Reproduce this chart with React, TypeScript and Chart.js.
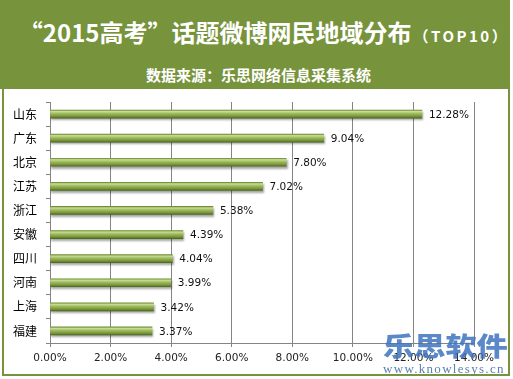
import React, { useEffect, useRef } from "react";
import { Chart, registerables } from "chart.js";

Chart.register(...registerables);

const categories = ["山东", "广东", "北京", "江苏", "浙江", "安徽", "四川", "河南", "上海", "福建"];
const shares = [12.28, 9.04, 7.8, 7.02, 5.38, 4.39, 4.04, 3.99, 3.42, 3.37];
const xTicks = [0, 2, 4, 6, 8, 10, 12, 14];
const titleMain = "“2015高考”话题微博网民地域分布";
const titleSuffix = "（TOP10）";
const subtitle = "数据来源：乐思网络信息采集系统";
const watermark = "乐思软件";
const watermarkUrl = "www.knowlesys.cn";

const GREEN = "#77933C";
const GRID = "#858585";

export default function App() {
  const ref = useRef<HTMLCanvasElement | null>(null);

  useEffect(() => {
    document.body.style.margin = "0";
    const canvas = ref.current;
    if (!canvas) return;

    const labelPlugin = {
      id: "valueLabels",
      beforeDatasetDraw(chart: any) {
        const ctx = chart.ctx;
        ctx.save();
        ctx.shadowColor = "rgba(0,0,0,0.35)";
        ctx.shadowOffsetX = 1;
        ctx.shadowOffsetY = 2;
        ctx.shadowBlur = 2;
      },
      afterDatasetDraw(chart: any) {
        chart.ctx.restore();
      },
      afterDatasetsDraw(chart: any) {
        const ctx = chart.ctx;
        const meta = chart.getDatasetMeta(0);
        ctx.save();
        ctx.font = "10.5px 'DejaVu Sans'";
        ctx.fillStyle = "#111";
        ctx.textAlign = "left";
        ctx.textBaseline = "middle";
        meta.data.forEach((bar: any, i: number) => {
          ctx.fillText(shares[i].toFixed(2) + "%", bar.x + 7, bar.y + 1);
        });
        ctx.restore();
      },
    };

    const chart = new Chart(canvas, {
      type: "bar",
      data: {
        labels: categories,
        datasets: [
          {
            data: shares,
            barThickness: 8,
            borderWidth: 0,
            backgroundColor: (c: any) => {
              const ch = c.chart;
              const ys = ch.scales && ch.scales.y;
              if (!ys || c.dataIndex === undefined) return "#8fb04a";
              const yc = ys.getPixelForValue(c.dataIndex);
              if (!Number.isFinite(yc)) return "#8fb04a";
              const g = ch.ctx.createLinearGradient(0, yc - 4, 0, yc + 4);
              g.addColorStop(0, "#6f8c30");
              g.addColorStop(0.18, "#c9dc98");
              g.addColorStop(0.45, "#9dbb5a");
              g.addColorStop(0.8, "#76933a");
              g.addColorStop(1, "#4f6a1f");
              return g;
            },
          },
        ],
      },
      options: {
        indexAxis: "y",
        responsive: false,
        animation: false,
        devicePixelRatio: 1,
        layout: { padding: { top: 102, right: 39, left: 0, bottom: 0 } },
        plugins: {
          legend: { display: false },
          title: { display: false },
          tooltip: { enabled: false },
        },
        scales: {
          x: {
            min: 0,
            max: 14,
            afterBuildTicks: (s: any) => {
              s.ticks = xTicks.map((v) => ({ value: v }));
            },
            afterFit: (s: any) => {
              s.height = 36;
            },
            ticks: {
              padding: 5,
              color: "#222",
              font: { family: "'DejaVu Sans'", size: 10.5 },
              callback: (v: any) => Number(v).toFixed(2) + "%",
              maxRotation: 0,
            },
            grid: { color: GRID, tickLength: 4, lineWidth: 1 },
            border: { display: true, color: GRID },
          },
          y: {
            afterFit: (s: any) => {
              s.width = 50;
            },
            ticks: {
              padding: 9,
              color: "#000",
              font: { family: "'Noto Sans CJK SC'", size: 12 },
            },
            grid: { drawOnChartArea: false, color: GRID, tickLength: 4, offset: true },
            border: { display: true, color: GRID },
          },
        },
      },
      plugins: [labelPlugin],
    } as any);
    chart.update();

    return () => chart.destroy();
  }, []);

  return (
    <div style={{ position: "relative", width: 513, height: 379, background: "#fff", overflow: "hidden" }}>
      <div
        style={{
          position: "absolute",
          left: 2,
          top: 0,
          width: 508,
          height: 376,
          border: `2px solid ${GREEN}`,
          boxSizing: "border-box",
        }}
      />
      <div style={{ position: "absolute", left: 0, top: 0, width: 510, height: 89, background: GREEN }} />
      <div
        style={{
          position: "absolute",
          left: 0,
          top: 15,
          width: 528,
          textAlign: "center",
          color: "#fff",
          fontFamily: "'Noto Sans CJK SC'",
          fontWeight: "bold",
          whiteSpace: "nowrap",
          lineHeight: "34px",
        }}
      >
        <span style={{ fontSize: 24 }}>{titleMain}</span>
        <span style={{ fontSize: 15, letterSpacing: 2.5, marginLeft: 2 }}>{titleSuffix}</span>
      </div>
      <div
        style={{
          position: "absolute",
          left: 0,
          top: 64,
          width: 517,
          textAlign: "center",
          color: "#fff",
          fontFamily: "'Noto Sans CJK SC'",
          fontWeight: "bold",
          fontSize: 15,
          lineHeight: "22px",
          whiteSpace: "nowrap",
        }}
      >
        {subtitle}
      </div>
      <canvas ref={ref} width={513} height={379} style={{ position: "absolute", left: 0, top: 0, width: 513, height: 379 }} />
      <div
        style={{
          position: "absolute",
          left: 383,
          top: 330,
          color: "#3f74bf",
          opacity: 0.85,
          fontFamily: "'Noto Sans CJK SC'",
          fontWeight: 900,
          fontSize: 26,
          lineHeight: "30px",
          transform: "scaleX(1.2)",
          transformOrigin: "left center",
          whiteSpace: "nowrap",
        }}
      >
        {watermark}
      </div>
      <div
        style={{
          position: "absolute",
          left: 383,
          top: 362,
          color: "#5a7fb0",
          fontFamily: "'Liberation Serif'",
          fontSize: 13,
          lineHeight: "14px",
          letterSpacing: 1.3,
          whiteSpace: "nowrap",
        }}
      >
        {watermarkUrl}
      </div>
    </div>
  );
}
